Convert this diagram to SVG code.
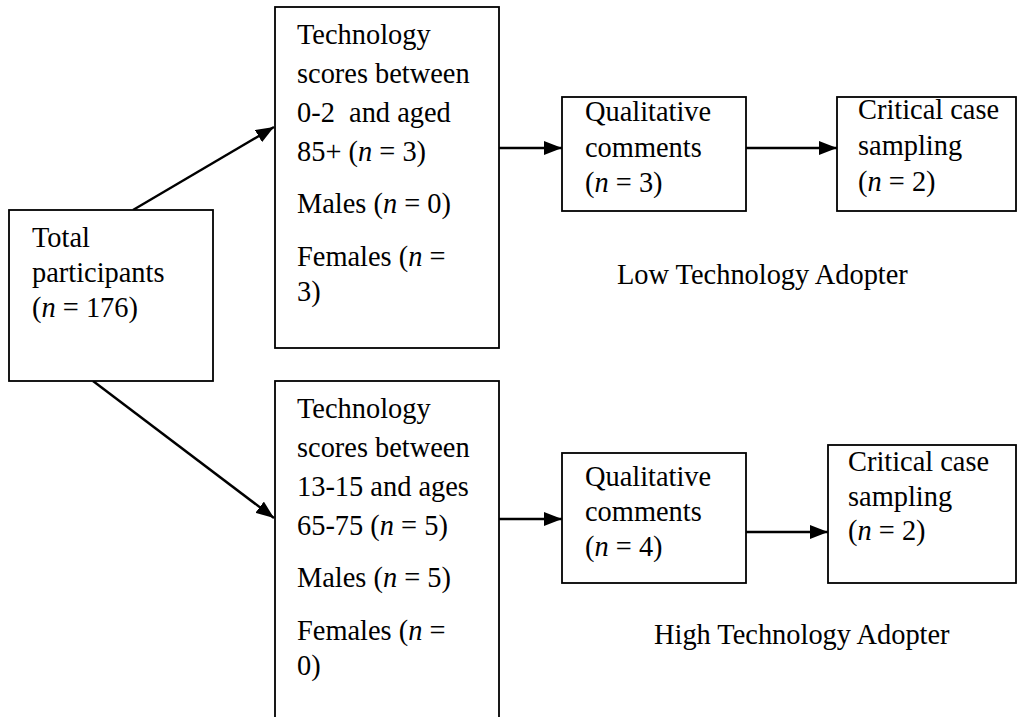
<svg xmlns="http://www.w3.org/2000/svg" width="1018" height="717" viewBox="0 0 1018 717">
  <style>
    .box { fill: #ffffff; stroke: #000000; stroke-width: 1.8; }
    .edge { fill: none; stroke: #000000; stroke-width: 2.4; }
    text { font-family: "Liberation Serif", "Times New Roman", serif; font-size: 28.4px; fill: #000000; }
    .i { font-style: italic; }
  </style>
  <defs>
    <marker id="arrow" markerUnits="userSpaceOnUse" markerWidth="18" markerHeight="14" refX="18" refY="7" orient="auto">
      <path d="M0,0 L18,7 L0,14 Z" fill="#000000"/>
    </marker>
  </defs>
  <rect width="1018" height="717" fill="#ffffff"/>

  <!-- connectors -->
  <g id="connectors">
    <line class="edge" x1="133" y1="210" x2="274" y2="127" marker-end="url(#arrow)"/>
    <line class="edge" x1="93" y1="381" x2="274" y2="518" marker-end="url(#arrow)"/>
    <line class="edge" x1="499" y1="148" x2="562" y2="148" marker-end="url(#arrow)"/>
    <line class="edge" x1="746" y1="148" x2="837" y2="148" marker-end="url(#arrow)"/>
    <line class="edge" x1="499" y1="519" x2="562" y2="519" marker-end="url(#arrow)"/>
    <line class="edge" x1="746" y1="532" x2="828" y2="532" marker-end="url(#arrow)"/>
  </g>

  <!-- total participants -->
  <g id="total">
    <rect class="box" x="9" y="210" width="204" height="171"/>
    <text x="32" y="247">Total</text>
    <text x="32" y="282">participants</text>
    <text x="32" y="317">(<tspan class="i">n</tspan> = 176)</text>
  </g>

  <!-- low adopter selection -->
  <g id="low-select">
    <rect class="box" x="275" y="7" width="224" height="341"/>
    <text x="297" y="44">Technology</text>
    <text x="297" y="83">scores between</text>
    <text x="297" y="122">0-2&#160; and aged</text>
    <text x="297" y="161">85+ (<tspan class="i">n</tspan> = 3)</text>
    <text x="297" y="213">Males (<tspan class="i">n</tspan> = 0)</text>
    <text x="297" y="266">Females (<tspan class="i">n</tspan> =</text>
    <text x="297" y="301">3)</text>
  </g>

  <!-- high adopter selection -->
  <g id="high-select">
    <rect class="box" x="275" y="381" width="224" height="345"/>
    <text x="297" y="418">Technology</text>
    <text x="297" y="457">scores between</text>
    <text x="297" y="496">13-15 and ages</text>
    <text x="297" y="535">65-75 (<tspan class="i">n</tspan> = 5)</text>
    <text x="297" y="587">Males (<tspan class="i">n</tspan> = 5)</text>
    <text x="297" y="640">Females (<tspan class="i">n</tspan> =</text>
    <text x="297" y="675">0)</text>
  </g>

  <g id="low-comments">
    <rect class="box" x="562" y="97" width="184" height="114"/>
    <text x="585" y="121">Qualitative</text>
    <text x="585" y="157">comments</text>
    <text x="585" y="192">(<tspan class="i">n</tspan> = 3)</text>
  </g>

  <g id="low-critical">
    <rect class="box" x="837" y="97" width="179" height="114"/>
    <text x="858" y="119">Critical case</text>
    <text x="858" y="155">sampling</text>
    <text x="858" y="191">(<tspan class="i">n</tspan> = 2)</text>
  </g>

  <g id="high-comments">
    <rect class="box" x="562" y="453" width="184" height="130"/>
    <text x="585" y="486">Qualitative</text>
    <text x="585" y="521">comments</text>
    <text x="585" y="556">(<tspan class="i">n</tspan> = 4)</text>
  </g>

  <g id="high-critical">
    <rect class="box" x="828" y="445" width="188" height="138"/>
    <text x="848" y="471">Critical case</text>
    <text x="848" y="506">sampling</text>
    <text x="848" y="540">(<tspan class="i">n</tspan> = 2)</text>
  </g>

  <g id="low-label">
    <text x="617" y="284">Low Technology Adopter</text>
  </g>
  <g id="high-label">
    <text x="654" y="644">High Technology Adopter</text>
  </g>
</svg>
